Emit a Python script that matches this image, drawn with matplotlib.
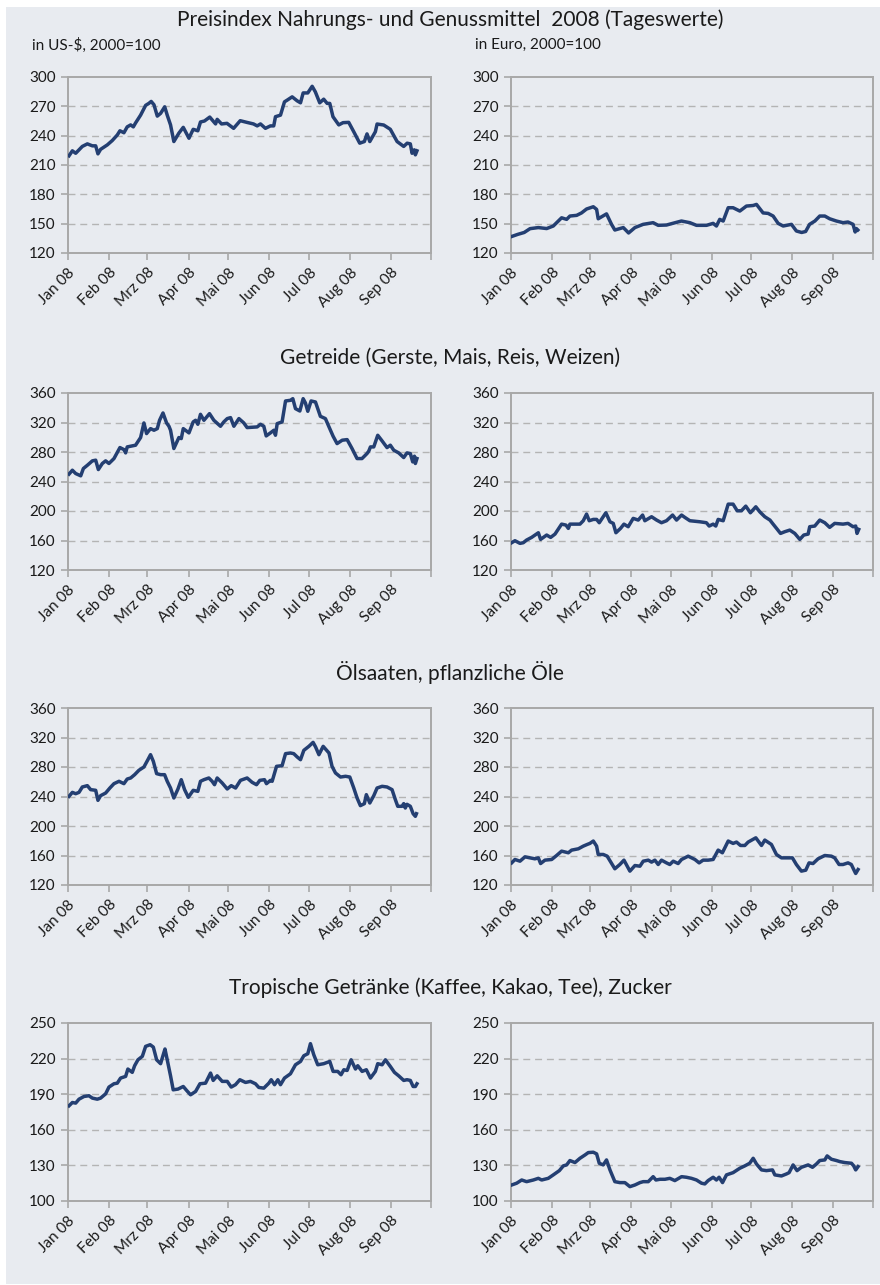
import numpy as np
import matplotlib
matplotlib.use("Agg")
import matplotlib.pyplot as plt
from matplotlib.patches import Rectangle

plt.rcParams['font.family'] = ['Lato', 'DejaVu Sans']

# ---------------- data (day offset from 1 Jan 2008, index value) ----------------
food_usd_days = [0.75, 3.3, 5.8, 8.3, 10.8, 14.6, 18.4, 20.9, 22.6, 24.6, 29.7, 33.4, 37.2, 39.2, 42.2, 44.7,
                 47.3, 49.3, 51, 54.8, 58.6, 61, 62.8, 64.9, 67.4, 69.9, 73, 74.9, 77.4, 79.9, 83.7, 87, 91.3,
                 94.5, 98, 100, 103, 107, 111.4, 112.6, 115.9, 120, 125, 130, 135, 140, 142.8, 145.3, 149,
                 152.8, 155.3, 156.6, 160.4, 163.4, 165.4, 169.2, 173, 175.5, 177.5, 181, 184.3, 186.7, 190,
                 193, 195.6, 197.6, 200, 204.4, 207.6, 211.9, 215.7, 220.2, 223.7, 225.7, 227.8, 232, 233.3,
                 238.3, 243.3, 248.4, 253.4, 256, 258.4, 259.7, 261.4, 262.2, 263.4]
food_usd_vals = [219.4, 224.5, 222, 225.5, 229, 231.6, 229.6, 229.6, 221.4, 226, 230.6, 235, 240.7, 245, 243,
                 249, 251, 249, 253, 261, 271, 273, 275, 271.6, 260, 262.8, 269.5, 261, 251, 234, 242.6, 248.5,
                 237.4, 246.5, 245, 254, 255, 259, 252, 256.7, 252, 252.6, 247.5, 255.3, 253.6, 252, 250, 252,
                 247.5, 250, 250, 259.4, 261, 274.6, 276.3, 279.7, 275.6, 273.6, 283.7, 283.7, 290.5, 284.8,
                 273.6, 277.3, 273, 273, 259.4, 251, 253.3, 253.6, 244, 232.3, 234, 241.8, 234, 244, 251.9,
                 250.9, 246.5, 234, 229, 232.3, 231.6, 222, 225.5, 220.4, 224.5]

food_eur_days = [0.75, 5, 10, 14.4, 20.7, 27, 32, 38.3, 42.1, 44.6, 49.7, 53.4, 57.2, 62.3, 64.8, 66, 72.3,
                 76.1, 78.6, 85, 89, 93.8, 100, 107.6, 111.4, 117.7, 121.5, 129, 135.4, 140.4, 148, 153,
                 155.5, 158, 160.6, 164.4, 168.1, 173.2, 178.2, 183.3, 185.8, 190.8, 194.6, 198.4, 202.2,
                 206, 212.3, 216, 220, 223, 226, 230, 233.7, 237.5, 241.2, 246.3, 251.3, 255.1, 258.9, 260.5,
                 261.4, 262.5]
food_eur_vals = [137, 139, 141, 144.9, 146, 145, 147.6, 156, 154.4, 157.8, 158.5, 161, 165, 167.3, 164.6, 155,
                 160, 149.3, 143.5, 146, 140.5, 146, 149.3, 151, 148.3, 148.6, 150, 152.7, 151, 148.3, 148.3,
                 150.3, 147.6, 154.4, 152.7, 166.3, 166.3, 162.9, 168, 168.6, 169.7, 161, 160.5, 157.8, 150.3,
                 147.6, 149.3, 142.5, 141, 142, 149.3, 152.7, 157.8, 157.8, 155, 152.7, 151, 151.7, 149.3,
                 141.5, 145, 143.5]

grain_usd_days = [0.75, 3.3, 5.8, 9.6, 11.6, 14.6, 18.4, 20.9, 22.9, 25.9, 28.4, 30.9, 34.7, 39.2, 42.2, 43.5,
                  44.7, 51, 54.8, 57.3, 59.3, 62.3, 64.9, 67.4, 69.1, 71.7, 74.4, 76.2, 77.4, 79.9, 83.7, 85.5,
                  87, 91.3, 94.5, 96.3, 98, 100, 102.6, 106.8, 110.1, 115.1, 117.6, 120.2, 122.7, 125.2, 129,
                  132.7, 135.2, 142.8, 145.3, 147.8, 149.6, 152.8, 155.4, 156.6, 157.9, 161.6, 164.2, 167.9,
                  169.7, 171.7, 175, 177.5, 179.2, 181, 183.5, 186.8, 190.5, 194.3, 196.8, 200.1, 203.1, 207,
                  210.7, 214.4, 218.2, 221.9, 223.7, 225.7, 227, 228.3, 230.8, 233.8, 237.1, 240.8, 243.3,
                  245.9, 249.6, 253.4, 255.9, 258.4, 260.2, 261.5, 262.2, 263.4]
grain_usd_vals = [250, 255.3, 250.8, 247.7, 257.6, 262, 268, 268.9, 256.2, 264.4, 268, 264.4, 271.1, 286, 283.3,
                  278.8, 286.9, 289.2, 299.6, 319.4, 305, 311.7, 309.5, 311.7, 323, 332.9, 319.4, 314.9, 309.5,
                  284.7, 299.6, 298.2, 311.7, 305.9, 320.8, 323, 317.6, 331.1, 323, 332, 323, 314.9, 320.8,
                  325.3, 326.6, 314.9, 325.3, 319.4, 313.1, 314, 317.6, 314.9, 301.8, 305.9, 309.5, 302.7,
                  318.5, 320.8, 349.2, 350.1, 352.3, 338.8, 335.6, 352.3, 346.5, 335.2, 349.2, 347.8, 328.4,
                  325.3, 314.9, 301.4, 291.4, 296, 296.8, 284.7, 271.1, 271.1, 274.3, 277.9, 281.1, 286.9,
                  286.9, 302.7, 295, 286, 289.2, 282.4, 278.8, 272.5, 278.8, 277.9, 266.6, 274.3, 264.4, 271.1]

grain_eur_days = [0.5, 3, 6.8, 9.3, 11.8, 15.6, 20.7, 22.4, 27, 30, 33.3, 38.3, 41.6, 43.4, 44.6, 52.2, 54.7,
                  57.2, 59.2, 62.3, 64.8, 66.8, 71.8, 74.9, 77.4, 79.4, 82.9, 85.5, 88.7, 92.5, 96.3, 99.6,
                  101.3, 106.4, 110.2, 113.9, 117.7, 122.3, 125.3, 129.1, 131.6, 135.4, 142.9, 147.9, 150, 153,
                  155, 156.8, 160.6, 164.4, 168.1, 171.2, 174.4, 177.7, 181.2, 185.3, 188.3, 192.1, 196, 198.4,
                  201, 204, 207.2, 211, 214.8, 218.6, 221.6, 224.9, 226.1, 229.9, 233.7, 237.5, 241.2, 245,
                  251.3, 255.1, 258.9, 260.9, 261.9, 263.2]
grain_eur_vals = [157, 159.7, 156.1, 157, 160.6, 164.2, 170.5, 161.5, 167.4, 164.2, 168.7, 182.2, 180.9, 176.4,
                  182.2, 182.2, 186.8, 195.8, 186.8, 188.6, 188.6, 184.1, 197.6, 185.4, 183.2, 170.5, 176.4,
                  182.2, 178.7, 190, 187.7, 194.5, 186.8, 192.2, 187.7, 184.1, 186.8, 194.5, 187.7, 194.5,
                  191.3, 186.8, 185.4, 184.1, 179.6, 182.2, 179.6, 188.6, 186.8, 209.3, 209.3, 200.3, 200.3,
                  206.6, 197.6, 205.7, 198.9, 192.2, 187.7, 182.2, 176.4, 169.6, 171.9, 174.1, 169.6, 161.5,
                  167.4, 168.7, 178.7, 179.6, 187.7, 184.1, 177.8, 183.2, 182.2, 183.2, 178.7, 179.6, 169.6, 175]

oil_usd_days = [0.75, 3.3, 5.8, 8.3, 10.8, 14.6, 17.1, 20.9, 22.6, 24.6, 28.4, 31.6, 34.7, 38.5, 42.2, 44.7,
                47.3, 50.3, 53.5, 57.3, 60.3, 62.3, 64.4, 66.9, 69.9, 72.9, 74.9, 77.4, 79.9, 83, 85.5, 88,
                90.8, 94.5, 98, 100, 102.6, 106.3, 108.8, 110.6, 112.6, 116.4, 120.2, 123.2, 126.5, 130.2,
                135.2, 139, 142.3, 144.8, 148.3, 149.8, 152.8, 154.1, 157.4, 161.6, 164.2, 167.9, 170.4, 173,
                175.5, 178, 181.8, 185, 186.9, 189.4, 192.6, 197, 199.3, 201.9, 205.7, 209.5, 212.7, 215.7,
                218.2, 220.7, 223.7, 225.2, 227.8, 230.8, 233.3, 237.1, 240.8, 244.6, 247.1, 248.9, 252.1,
                253.4, 254.6, 255.9, 258.4, 260.5, 262.2, 263]
oil_usd_vals = [240.2, 245.6, 243.8, 245.6, 252.9, 254.7, 249.3, 248.4, 234.8, 241.1, 244.7, 251.5, 257.4,
                260.6, 257.4, 263.7, 265.1, 269.6, 275.5, 280, 289.9, 296.7, 287.7, 271, 269.6, 269.6, 260.6,
                251.5, 238, 250.2, 262.8, 249.3, 238.9, 248.4, 247, 260.6, 262.8, 265.1, 260.6, 256, 265.1,
                258.3, 250.2, 254.7, 251.5, 261.9, 265.1, 259.2, 256, 261.9, 262.8, 257.4, 261.9, 260.6,
                280.9, 281.8, 298.1, 299, 298.1, 293.6, 289.9, 302.6, 308, 313.4, 307.1, 296.7, 308, 299,
                280.9, 271.9, 266.4, 267.4, 266.4, 251.5, 238, 227.6, 230.3, 242.5, 231.2, 241.1, 251.5,
                253.8, 252.9, 249.3, 235.7, 226.7, 226.7, 230.3, 224.4, 229.4, 226.7, 216.7, 213.1, 216.7]

oil_eur_days = [0.5, 3, 6.8, 10.6, 14.4, 18.1, 20.7, 22.4, 25.7, 30.8, 34.5, 38.3, 43.4, 45.9, 51, 54.7, 57.7,
                59.7, 62.3, 64.8, 66, 69.8, 72.8, 78.6, 82.4, 85.5, 90, 93.8, 97.6, 100.1, 103.9, 106.4,
                108.9, 111.4, 113.9, 117.7, 120.2, 122.8, 126.5, 129.1, 134.1, 139.2, 142.4, 145.4, 149.2,
                153, 156.8, 160, 164.4, 168.1, 170.7, 173.7, 177, 179.5, 185.3, 189.6, 192.1, 197.1, 200.9,
                204.7, 209.7, 213, 216, 219.8, 223.1, 225.6, 228.6, 232.4, 237.5, 242.5, 245, 248.3, 251.3,
                255.1, 257.6, 259.4, 260.9, 262.7]
oil_eur_vals = [150, 154.6, 152.3, 158.2, 156.8, 155.5, 156.8, 149.1, 153.7, 154.6, 160, 165.9, 163.7, 167.3,
                169.1, 172.7, 175, 176.4, 179.6, 172.7, 161.4, 161.4, 159.1, 142, 147.8, 153.7, 138.8, 146.4,
                145.5, 152.3, 153.7, 151, 153.7, 147.8, 153.7, 150, 147.8, 152.3, 149.1, 154.6, 159.1, 154.6,
                150, 153.7, 153.7, 154.6, 167.3, 163.7, 179.6, 176.4, 178.2, 173.6, 173.6, 178.2, 184, 173.6,
                180.9, 175, 161.4, 156.8, 156.8, 156.8, 147.8, 138.8, 140.1, 150, 149.1, 155.5, 160, 159.1,
                156.8, 147.8, 147.8, 150, 147.8, 141, 135.6, 141]

trop_usd_days = [0.75, 3.3, 5.8, 8.3, 12.1, 15.8, 18.4, 22.1, 24.6, 28.4, 30.9, 34.7, 37.2, 39.7, 43.5, 45.2,
                 48.5, 50.3, 52.8, 56.1, 58.6, 62, 64.4, 66.9, 69.9, 71.9, 73.2, 74.9, 77.4, 79.4, 83, 87,
                 89.5, 92.5, 96.3, 99.6, 103.8, 107.6, 109.6, 112.6, 116.4, 120.2, 123.2, 126.4, 129.7, 134,
                 137.7, 141.5, 144, 147.8, 151.6, 153.4, 155.9, 158.4, 160.4, 163.4, 167.9, 171.7, 175.5, 178,
                 181, 183, 185.5, 188.5, 193, 197.6, 200.1, 203.6, 206.1, 208.2, 210.7, 213.7, 217, 218.7,
                 222, 225.2, 228.3, 232, 233.8, 237.1, 239.6, 243.3, 246.4, 249.6, 253.4, 255.9, 258.4, 260.5,
                 262.2, 263.4]
trop_usd_vals = [180.2, 183, 182.5, 185.8, 188.1, 188.7, 186.7, 185.8, 186.7, 190.3, 196, 198.8, 199.3, 203.6,
                 205, 211.2, 208.4, 214, 219, 221.9, 230.3, 231.7, 229.7, 219, 215.7, 223.3, 228.1, 219,
                 205.5, 193.7, 194.3, 196.5, 193.2, 189.5, 192.3, 198.8, 199.3, 207.8, 201.6, 205.5, 200.8,
                 200.8, 196, 198, 202.2, 199.9, 200.8, 198.8, 195.7, 195.1, 199.3, 202.2, 198, 202.2, 198,
                 203.6, 207.2, 214.8, 217.6, 222.4, 224.1, 232.6, 223.3, 214.8, 215.7, 217.6, 209.2, 209.2,
                 206.4, 210.6, 210, 219, 211.2, 214, 209.2, 210.6, 203.6, 209.2, 215.7, 214.8, 219, 213.4,
                 208.4, 205.5, 201.6, 202.2, 201.6, 196.5, 196.5, 198.8]

trop_eur_days = [0.5, 4.3, 8.1, 11.8, 16.9, 20.7, 23.2, 28.2, 32, 36.6, 39.6, 42.1, 44.6, 48.4, 52.2, 56, 58.5,
                 62.3, 64.8, 66.8, 69.8, 72.3, 74.9, 78.6, 82.4, 86.2, 90, 93.8, 97.6, 100.1, 103.9, 107.6,
                 109.7, 112.7, 116.5, 120.2, 124, 129.1, 132.8, 136.6, 140.4, 144.2, 146.7, 149.2, 153, 155.5,
                 157.5, 160.1, 163.1, 168.1, 173.2, 177, 180.7, 183.3, 185.8, 189.6, 193.3, 197.9, 199.7,
                 204.7, 208.5, 210.5, 213.5, 216.5, 219.8, 224.9, 228.2, 231.2, 233.7, 237.5, 239.3, 242.5,
                 246.3, 248.9, 252.6, 257.7, 259.4, 260.9, 262.7]
trop_eur_vals = [113.5, 115, 117.7, 116.3, 117.7, 119.1, 117.7, 119.1, 122, 125.6, 129.6, 130.4, 134.1, 132.4,
                 136, 138.8, 140.8, 141.1, 139.7, 131.8, 130.4, 134.6, 126.2, 116.3, 115.5, 115.5, 112.1,
                 113.5, 115.5, 116.3, 116.3, 120.5, 117.7, 118.3, 118.3, 119.1, 117.2, 120.5, 120, 119.1,
                 117.7, 115, 114.4, 117.2, 120, 117.7, 120, 115.5, 122, 123.9, 127.6, 129.6, 131.8, 136,
                 131.2, 126.2, 125.6, 126.2, 122, 121.1, 122.8, 123.9, 130.4, 125.6, 128.4, 130.4, 128.4,
                 131.2, 134.1, 134.6, 138, 135.2, 134.1, 133.2, 132.4, 131.8, 129.6, 126.2, 129]

month_labels = ['Jan 08', 'Feb 08', 'Mrz 08', 'Apr 08', 'Mai 08', 'Jun 08', 'Jul 08', 'Aug 08', 'Sep 08', '']
month_starts = ['2008-01-01', '2008-02-01', '2008-03-01', '2008-04-01', '2008-05-01', '2008-06-01',
                '2008-07-01', '2008-08-01', '2008-09-01', '2008-10-01']

row_titles = ['Preisindex Nahrungs- und Genussmittel  2008 (Tageswerte)',
              'Getreide (Gerste, Mais, Reis, Weizen)',
              'Ölsaaten, pflanzliche Öle',
              'Tropische Getränke (Kaffee, Kakao, Tee), Zucker']
unit_labels = ['in US-$, 2000=100', 'in Euro, 2000=100']

y_ticks_rows = [[120, 150, 180, 210, 240, 270, 300],
                [120, 160, 200, 240, 280, 320, 360],
                [120, 160, 200, 240, 280, 320, 360],
                [100, 130, 160, 190, 220, 250]]

panels = [[(food_usd_days, food_usd_vals), (food_eur_days, food_eur_vals)],
          [(grain_usd_days, grain_usd_vals), (grain_eur_days, grain_eur_vals)],
          [(oil_usd_days, oil_usd_vals), (oil_eur_days, oil_eur_vals)],
          [(trop_usd_days, trop_usd_vals), (trop_eur_days, trop_eur_vals)]]

# ---------------- styling ----------------
W, H = 880, 1285
BG = '#E8EBF0'
LINE = '#243F72'
FRAME = '#A8A8A8'
GRID = '#B4B4B4'

fig = plt.figure(figsize=(W / 100, H / 100), dpi=100)
fig.patch.set_facecolor('white')
fig.add_artist(Rectangle((6 / W, 1 - 1284 / H), (W - 6) / W, (1284 - 7) / H,
                         transform=fig.transFigure, facecolor=BG, edgecolor='none', zorder=-10))

col_x = [(68, 431), (511, 873)]
row_y = [(77, 253), (393, 570), (708, 885), (1023, 1201)]
title_y = [20, 358, 673, 988]

base = np.datetime64('2008-01-01T00:00')
ticks = np.array(month_starts, dtype='datetime64[D]').astype('datetime64[m]')

for r in range(4):
    for c in range(2):
        x0, x1 = col_x[c]
        y0, y1 = row_y[r]
        ax = fig.add_axes([x0 / W, 1 - y1 / H, (x1 - x0) / W, (y1 - y0) / H])
        ax.set_facecolor(BG)
        days, vals = panels[r][c]
        t = base + (np.array(days) * 1440).astype('timedelta64[m]')
        ax.plot(t, vals, color=LINE, lw=2.5, solid_joinstyle='round', zorder=3)
        yt = y_ticks_rows[r]
        ax.set_ylim(yt[0], yt[-1])
        ax.set_yticks(yt)
        ax.set_yticklabels([str(v) for v in yt])
        ax.set_xlim(ticks[0], ticks[-1])
        ax.set_xticks(ticks)
        ax.set_xticklabels(month_labels, rotation=45, ha='right', rotation_mode='anchor')
        for gy in yt[1:-1]:
            ax.axhline(gy, color=GRID, lw=1.0, dashes=(5, 3.5), zorder=1)
        for s in ax.spines.values():
            s.set_color(FRAME)
            s.set_linewidth(1.4)
        ax.tick_params(axis='both', colors=FRAME, length=5, width=1.2, labelsize=11,
                       labelcolor='#1a1a1a')
        ax.tick_params(axis='y', pad=4)
        ax.tick_params(axis='x', pad=4)

for r in range(4):
    fig.text(450 / W, 1 - title_y[r] / H, row_titles[r], ha='center', va='center',
             fontsize=15, color='#1a1a1a')

fig.text(32 / W, 1 - 45 / H, unit_labels[0], ha='left', va='center', fontsize=11, color='#1a1a1a')
fig.text(475 / W, 1 - 45 / H, unit_labels[1], ha='left', va='center', fontsize=11, color='#1a1a1a')

fig.savefig('out.png', dpi=100, facecolor='white')
